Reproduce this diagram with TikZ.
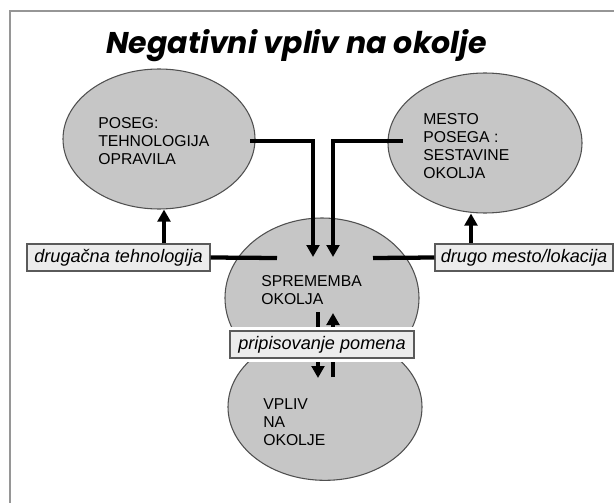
\documentclass[tikz,border=0pt]{standalone}
\usepackage{fontspec}
\setmainfont{Liberation Sans}
\newfontfamily\titlefont{Poppins}
\usetikzlibrary{shapes.geometric,arrows.meta}
\definecolor{ellfill}{RGB}{198,198,198}
\definecolor{elldraw}{RGB}{80,80,80}
\definecolor{boxfill}{RGB}{236,236,236}
\definecolor{boxdraw}{RGB}{90,90,90}
\definecolor{framecol}{RGB}{150,150,150}
\begin{document}
\begin{tikzpicture}[x=0.75pt,y=-0.75pt,
  ell/.style={ellipse, draw=elldraw, line width=0.8pt, fill=ellfill, inner sep=0pt},
  txt/.style={anchor=north west, align=left, inner sep=0pt, font=\fontsize{11.8}{13.6}\selectfont},
  lbl/.style={draw=boxdraw, line width=1pt, fill=boxfill, inner sep=0pt, minimum height=20.25pt, font=\fontsize{13.6}{16}\selectfont\itshape},
  conn/.style={line width=3.2pt},
  arr/.style={line width=3.2pt, -{Triangle[length=9pt,width=9.5pt]}},
]
\useasboundingbox (0,0) rectangle (614,503);
\fill[white] (0,0) rectangle (614,503);
\draw[framecol, line width=1.5pt] (10,503) -- (10,11) -- (614,11);
\node[anchor=base west, inner sep=0pt, font=\titlefont\bfseries\itshape\fontsize{22.5}{25}\selectfont] (title) at (106,54) {Negativni vpliv na okolje};

\node[ell, minimum width=144pt, minimum height=105pt] (TL) at (159,139) {};
\node[ell, minimum width=145.5pt, minimum height=105pt] (TR) at (485,143) {};
\node[ell, minimum width=145.5pt, minimum height=120pt] (MID) at (322,298) {};
\node[ell, minimum width=145.5pt, minimum height=110pt] (LOW) at (325,407) {};

\node[txt] (tTL) at (98,117) {POSEG:\\TEHNOLOGIJA\\OPRAVILA};
\node[txt] (tTR) at (423,113) {MESTO\\POSEGA :\\SESTAVINE\\OKOLJA};
\node[txt] (tMID) at (261,275) {SPREMEMBA\\OKOLJA};
\node[txt] (tLOW) at (263,398) {VPLIV\\NA\\OKOLJE};

\node[lbl, minimum width=137.25pt] (bL) at (118.5,257.5) {drugačna tehnologija};
\node[lbl, minimum width=133.5pt] (bR) at (524,257.5) {drugo mesto/lokacija};

\coordinate (cL) at (277,258);
\coordinate (cR) at (373,258);
\draw[conn] (bL.east) -- (cL);
\draw[conn] (bR.west) -- (cR);

\coordinate (xA) at (164,0);
\coordinate (xB) at (471,0);
\draw[arr] (bL.north -| xA) -- (TL.south -| xA);
\draw[arr] (bR.north -| xB) -- (TR.south -| xB);

\coordinate (sA) at (250,141);
\coordinate (eA) at (313,257);
\coordinate (sB) at (403,141);
\coordinate (eB) at (333,257);
\draw[arr] (sA) -| (eA);
\draw[arr] (sB) -| (eB);

\coordinate (m1) at (318,312);
\coordinate (m2) at (318,378);
\coordinate (n1) at (333,377);
\coordinate (n2) at (333,313);
\draw[arr] (m1) -- (m2);
\draw[arr] (n1) -- (n2);

\node[lbl, minimum width=138pt, preaction={draw=white, line width=6pt}] (bM) at (322,344.5) {pripisovanje pomena};
\end{tikzpicture}
\end{document}
